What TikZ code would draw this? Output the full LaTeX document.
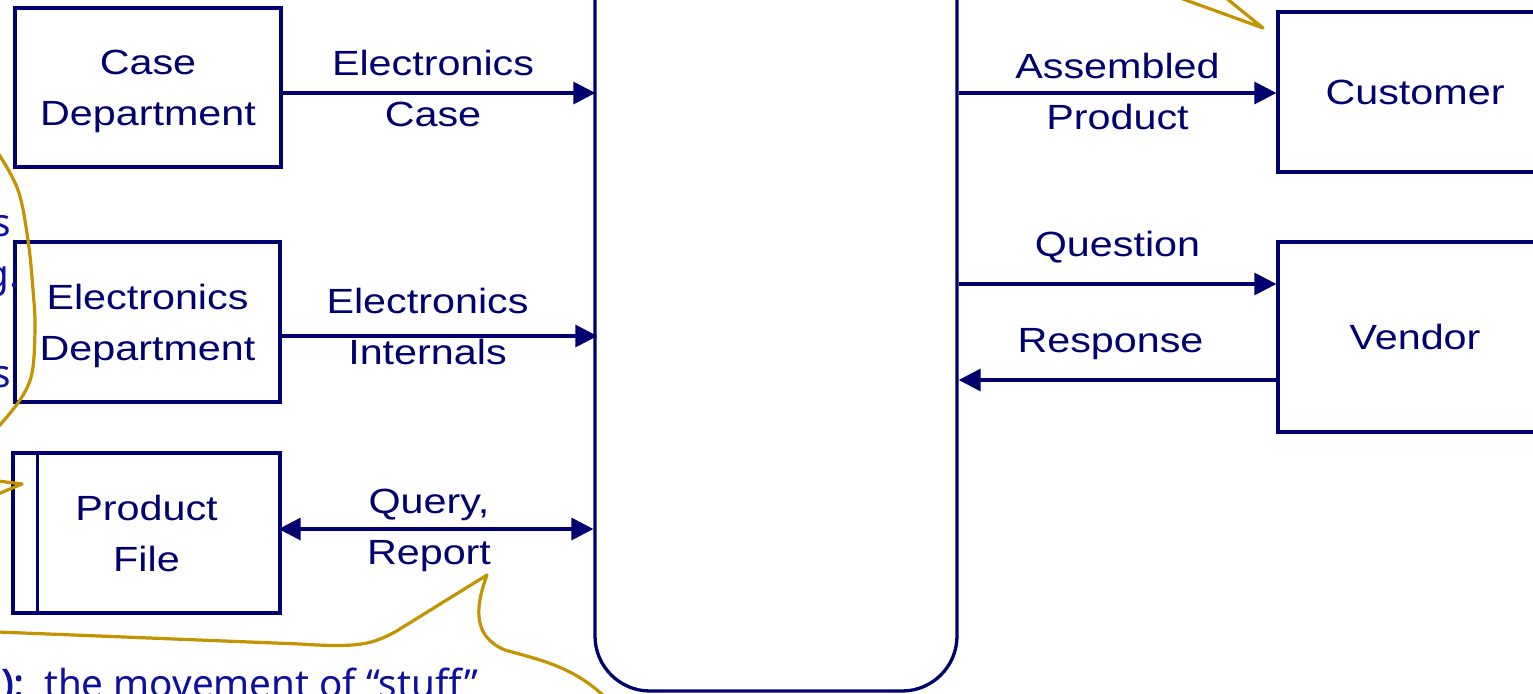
\documentclass[tikz,border=0pt]{standalone}
\usepackage{fontspec}
\setmainfont{Liberation Sans}[FakeStretch=1.18]
\newfontfamily\notefont{Noto Sans}
\newfontfamily\notekeyfont{Noto Sans}[FakeBold=2.5]
\usetikzlibrary{arrows.meta}
\definecolor{dfdnavy}{RGB}{0,0,110}
\definecolor{notegold}{RGB}{195,147,0}
\definecolor{noteblue}{RGB}{15,15,160}

\begin{document}
\begin{tikzpicture}[x=1pt,y=-1pt,
  entity/.style={draw=dfdnavy, line width=3.3pt, inner sep=0pt, text=dfdnavy,
    align=center, text depth=0pt, font=\fontsize{35}{51}\selectfont},
  flow/.style={draw=dfdnavy, line width=3.3pt, -{Triangle[length=22pt,width=22pt]}},
  biflow/.style={draw=dfdnavy, line width=3.3pt,
    {Triangle[length=22pt,width=22pt]}-{Triangle[length=22pt,width=22pt]}},
  lbl/.style={text=dfdnavy, align=center, inner sep=0pt,
    font=\fontsize{35}{51}\selectfont},
  callout/.style={draw=notegold, line width=3.2pt, line join=round, line cap=round},
  note/.style={text=noteblue, inner sep=0pt, font=\notefont\fontsize{38.6}{50}\selectfont}
]
\useasboundingbox (0,0) rectangle (1533,693);
\clip (0,0) rectangle (1533,693);

% process and external entities
\node[entity, rounded corners=55pt, minimum width=362pt, minimum height=800pt] (proc) at (776,291) {};
\node[entity, minimum width=266pt, minimum height=159pt] (case) at (148,87.5) {Case\\Department};
\node[entity, minimum width=265pt, minimum height=160pt] (elec) at (147.5,322) {Electronics\\Department};
\node[entity, minimum width=267pt, minimum height=160pt] (pfile) at (146.5,533) {Product\\File};
\draw[dfdnavy, line width=3.3pt] ([xshift=26pt]pfile.north west) -- ([xshift=26pt]pfile.south west);
\node[entity, minimum width=274pt, minimum height=160pt] (cust) at (1415,92) {Customer};
\node[entity, minimum width=274pt, minimum height=190pt] (vend) at (1415,337) {Vendor};

% flow end points
\coordinate (caseout) at ([yshift=-5.5pt]case.east);
\coordinate (elecout) at ([yshift=-14pt]elec.east);
\coordinate (fileio) at ([yshift=4pt]pfile.east);
\coordinate (custin) at ([yshift=-1pt]cust.west);
\coordinate (vendin) at ([yshift=53pt]vend.west);
\coordinate (vendout) at ([yshift=-43pt]vend.west);

% data flows
\draw[flow] (caseout) -- ([xshift=2pt]caseout -| proc.west)
  node[lbl, midway, xshift=-6pt, yshift=5pt] (lcase) {Electronics\\Case};
\draw[flow] (elecout) -- ([xshift=4pt]elecout -| proc.west)
  node[lbl, midway, xshift=-12pt, yshift=10pt] (lelec) {Electronics\\Internals};
\draw[biflow] ([xshift=-3pt]fileio) -- (fileio -| proc.west)
  node[lbl, midway, xshift=-7pt, yshift=-1.5pt] (lfile) {Query,\\Report};
\draw[flow] (custin -| proc.east) -- (custin)
  node[lbl, midway, yshift=1.5pt] (lcust) {Assembled\\Product};
\draw[flow] (vendin -| proc.east) -- (vendin)
  node[lbl, midway, anchor=base, yshift=28pt] (lques) {Question};
\draw[flow] (vendout) -- (vendout -| proc.east)
  node[lbl, midway, anchor=base, xshift=-7pt, yshift=28pt] (lresp) {Response};

% annotation callouts
\draw[callout] plot[smooth, tension=0.6] coordinates
  {(-2,153) (18,190) (28,240) (33,290) (35,327) (32,373) (20,400) (-1,426)};
\draw[callout] (-2,481) -- (22,484) -- (-2,494);
\draw[callout] (-2,632) -- (300,644) .. controls (360,648) and (372,644) .. (395,632)
  -- (487,575) .. controls (474,610) and (474,637) .. (505,650)
  .. controls (540,660) and (572,666) .. (605,697);
\draw[callout] (1180,-2) -- (1263,28) -- (1226,-2);

% annotation text
\node[note, anchor=base east] (frag1) at (11,236) {s};
\node[note, anchor=base east] (frag2) at (20,287) {g.};
\node[note, anchor=base east] (frag3) at (11,387) {s};
\node[note, anchor=base east, font=\notekeyfont\fontsize{38.6}{50}\selectfont] (dfkey) at (24,697) {):};
\node[note, anchor=base west] (dfdesc) at (44,697) {the movement of “stuff”};
\end{tikzpicture}
\end{document}
